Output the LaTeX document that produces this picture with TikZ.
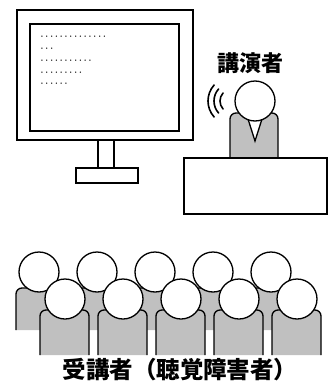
\documentclass[tikz,border=0pt]{standalone}
\usepackage{fontspec}
\usepackage{xcolor}
\newfontfamily\jpfont{Noto Sans CJK JP}
\definecolor{suitgray}{HTML}{C0C0C0}

\begin{document}
\begin{tikzpicture}[x=1pt, y=-1pt, line width=1.3pt,
    jplabel/.style={font=\jpfont\bfseries\fontsize{22}{22}\selectfont, inner sep=0pt},
    scrtext/.style={font=\jpfont\bfseries\fontsize{4.8}{4.8}\selectfont, anchor=west, inner sep=0pt},
    head/.style={draw, fill=white},
    suit/.style={fill=suitgray}]
  \useasboundingbox (0,0) rectangle (334,383);

  % monitor: frame, screen, neck, foot
  \draw[fill=white] (17,10) rectangle (193,140);
  \draw (30,24) rectangle (179,131);
  \draw (98,140) rectangle (114,168);
  \draw (76,168) rectangle (138,183);
  % lines of text on the screen
  \foreach \dots/\yy/\i in {{・・・・・・・・・・・・・・}/37.5/1, {・・・}/49.5/2,
      {・・・・・・・・・・・}/61.5/3, {・・・・・・・・・}/73/4, {・・・・・・}/84/5}
    \node[scrtext] (line\i) at (39,\yy) {\dots};

  % speaker behind the desk
  \node[jplabel] (speaker) at (250,63) {講演者};
  \fill[suit] (230,158) [rounded corners=6] -- (230,113) -- (278,113) [sharp corners] -- (278,158) -- cycle;
  \draw (230,158) [rounded corners=6] -- (230,113) -- (278,113) [sharp corners] -- (278,158);
  \fill[white] (248,119) -- (255,141) -- (262,119) -- cycle;
  \draw (248,119) -- (255,141) -- (262,119);
  \draw[head] (255,101) circle[radius=20];
  % voice
  \foreach \r in {12,18,24}
    \draw[line width=1.6pt, line cap=round, shift={(232,101)}] (138:\r) arc[start angle=138, end angle=222, radius=\r];
  \draw[fill=white] (184,158) rectangle (327,214);

  % audience, back row then front row
  \foreach \i in {0,...,4} {
    \pgfmathsetmacro{\cx}{39+58*\i}
    \fill[suit] (\cx-23,330) [rounded corners=6] -- (\cx-23,288) -- (\cx+25,288) [sharp corners] -- (\cx+25,330) -- cycle;
    \draw (\cx-23,330) [rounded corners=6] -- (\cx-23,288) -- (\cx+25,288) [sharp corners] -- (\cx+25,330);
    \draw[head] (\cx,272) circle[radius=20];
  }
  \foreach \i in {0,...,4} {
    \pgfmathsetmacro{\cx}{65+58*\i}
    \fill[suit] (\cx-25,355) [rounded corners=6] -- (\cx-25,310) -- (\cx+24,310) [sharp corners] -- (\cx+24,355) -- cycle;
    \draw (\cx-25,355) [rounded corners=6] -- (\cx-25,310) -- (\cx+24,310) [sharp corners] -- (\cx+24,355);
    \draw[head] (\cx,299) circle[radius=20];
  }
  \node[jplabel, font=\jpfont\bfseries\fontsize{23.5}{23.5}\selectfont] (audience) at (180,370) {受講者（聴覚障害者）};
\end{tikzpicture}
\end{document}
